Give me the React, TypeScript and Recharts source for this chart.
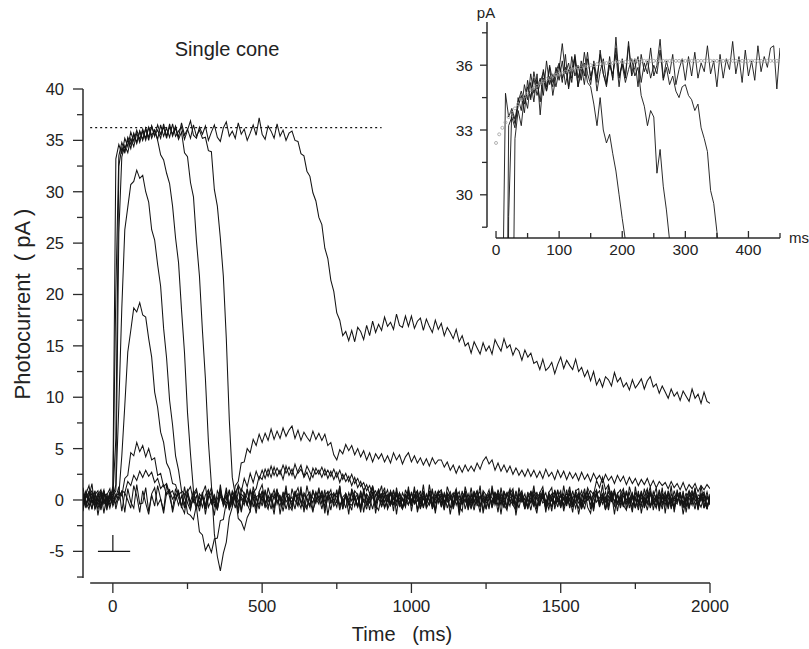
import { ComposedChart, Line, XAxis, YAxis, ReferenceLine } from 'recharts'

// sampling grid of the main traces (ms)
const TIME = [
  -100, -90, -80, -70, -60, -50, -40, -30, -20, -10,
  0, 10, 20, 30, 40, 50, 60, 70, 80, 90,
  100, 110, 120, 130, 140, 150, 160, 170, 180, 190,
  200, 210, 220, 230, 240, 250, 260, 270, 280, 290,
  300, 310, 320, 330, 340, 350, 360, 370, 380, 390,
  400, 410, 420, 430, 440, 450, 460, 470, 480, 490,
  500, 510, 520, 530, 540, 550, 560, 570, 580, 590,
  600, 610, 620, 630, 640, 650, 660, 670, 680, 690,
  700, 710, 720, 730, 740, 750, 760, 770, 780, 790,
  800, 810, 820, 830, 840, 850, 860, 870, 880, 890,
  900, 910, 920, 930, 940, 950, 960, 970, 980, 990,
  1000, 1010, 1020, 1030, 1040, 1050, 1060, 1070, 1080, 1090,
  1100, 1110, 1120, 1130, 1140, 1150, 1160, 1170, 1180, 1190,
  1200, 1210, 1220, 1230, 1240, 1250, 1260, 1270, 1280, 1290,
  1300, 1310, 1320, 1330, 1340, 1350, 1360, 1370, 1380, 1390,
  1400, 1410, 1420, 1430, 1440, 1450, 1460, 1470, 1480, 1490,
  1500, 1510, 1520, 1530, 1540, 1550, 1560, 1570, 1580, 1590,
  1600, 1610, 1620, 1630, 1640, 1650, 1660, 1670, 1680, 1690,
  1700, 1710, 1720, 1730, 1740, 1750, 1760, 1770, 1780, 1790,
  1800, 1810, 1820, 1830, 1840, 1850, 1860, 1870, 1880, 1890,
  1900, 1910, 1920, 1930, 1940, 1950, 1960, 1970, 1980, 1990,
  2000,
]

// photocurrent traces (pA); two sub-threshold sweeps first, then dimmest to brightest flash
const TRACE_0A = [
  1.2, -0.4, 0.3, 1.6, -0.9, -0.2, 0.8, -1.3, 0.5, 1.1,
  -0.6, 0.2, 1.3, -1.1, 0.7, 0.0, -0.8, 1.4, 0.4, -1.2,
  0.9, -0.3, -1.4, 0.6, 1.2, -0.5, 0.1, -1.0, 1.5, 0.3,
  -0.9, 1.1, 0.2, -0.6, -1.3, 0.8, 1.3, -0.2, 0.4, -1.1,
  0.6, 1.4, -0.7, 0.0, -1.5, 0.9, 0.3, -0.4, 1.2, -0.8,
  -0.1, 0.7, 1.3, -1.2, 0.4, -0.6, 1.0, 0.2, -1.3, 0.8,
  1.5, -0.3, -0.9, 0.6, 0.1, 1.1, -1.4, 0.3, 0.9, -0.5,
  -1.0, 0.5, 1.2, -0.2, -0.8, 1.4, 0.0, -1.2, 0.7, 0.2,
  0.8, -1.3, 0.4, 1.0, -0.6, -0.1, 1.3, -0.9, 0.5, -1.4,
  1.1, 0.3, -0.7, 0.9, -1.2, 0.6, 0.1, 1.4, -0.5, -1.0,
  0.4, 1.2, -0.9, -0.2, 1.0, -1.4, 0.7, 0.0, -0.6, 1.3,
  -1.1, 0.5, 0.9, -0.4, 1.5, -0.8, -0.2, 1.1, -1.3, 0.6,
  0.2, -1.0, 1.3, 0.4, -0.7, 1.0, -1.5, 0.3, 0.8, -0.4,
  1.2, -0.6, 0.0, -1.2, 0.9, 0.5, -0.9, 1.4, -0.3, 0.7,
  -1.4, 0.8, 0.3, 1.1, -0.5, -1.0, 1.2, -0.1, 0.6, -0.8,
  0.9, -0.2, -1.3, 0.7, 1.3, -0.6, 0.4, -1.1, 1.0, 0.1,
  -0.7, 1.4, -0.4, 0.2, -1.2, 0.9, 1.1, -0.8, -0.2, 1.2,
  0.5, -1.1, 0.8, -0.3, 1.5, -0.9, 0.0, 0.7, -1.4, 0.6,
  1.0, -0.5, -1.0, 1.3, 0.2, -0.7, 0.9, -1.3, 0.4, 1.1,
  -0.8, 0.3, 1.2, -1.1, 0.6, 0.0, -0.6, 1.4, -1.2, 0.5,
  0.7, -1.4, 0.2, 0.9, -0.3, 1.2, -1.0, 0.4, 0.8, -0.9,
  0.3,
]

const TRACE_0B = [
  -1.1, 0.6, 1.4, -0.3, 0.9, -1.5, 0.2, 1.0, -0.7, 0.0,
  1.3, -0.9, 0.4, 0.8, -1.2, 1.1, -0.2, -0.8, 1.5, -0.4,
  -0.3, 1.2, -1.1, 0.5, -0.6, 1.4, 0.1, -1.3, 0.7, 1.0,
  -1.2, 0.2, 0.9, -0.8, 1.3, -0.3, -1.0, 0.6, 1.1, -0.5,
  0.8, -1.4, 0.3, 1.2, -0.2, -0.9, 1.5, -0.6, 0.0, 1.0,
  -0.7, 0.4, -1.3, 1.1, 0.6, -0.4, -1.1, 1.3, 0.2, -0.9,
  0.5, -0.8, 1.2, 0.1, -1.4, 0.9, 0.3, -0.5, 1.4, -1.0,
  1.1, 0.0, -0.6, 1.3, -1.2, 0.4, 0.8, -1.0, -0.1, 1.2,
  -0.4, 1.0, -1.5, 0.3, 0.7, -0.3, 1.4, -0.9, 0.6, -0.2,
  -1.0, 0.9, 0.5, -1.2, 1.1, -0.5, -0.1, 1.3, -1.3, 0.4,
  1.4, -0.7, 0.1, 0.8, -1.1, 1.2, -0.4, -0.9, 1.0, 0.2,
  -0.5, 1.3, -1.2, 0.0, 0.9, -0.8, 1.5, -0.3, -1.0, 0.7,
  1.0, -0.2, 0.6, -1.4, 0.3, 1.1, -0.6, -1.1, 1.3, 0.1,
  -0.9, 0.7, -0.3, 1.4, -1.3, 0.2, 1.0, -0.7, 0.5, -1.2,
  1.2, -0.4, -1.0, 0.6, 1.1, -1.5, 0.4, 0.9, -0.6, 0.0,
  -0.2, 1.4, -0.8, -0.1, 1.0, -1.2, 0.7, 1.2, -0.9, 0.3,
  0.9, -1.1, 0.2, 1.3, -0.5, 0.6, -1.4, 0.1, 1.1, -0.7,
  -1.3, 0.5, 1.0, -0.6, 0.3, -1.0, 1.4, -0.2, 0.8, -1.1,
  0.6, 1.1, -0.9, 0.0, -1.2, 1.3, -0.4, 0.9, -0.8, 0.2,
  1.3, -1.0, 0.4, -0.5, 1.2, -1.3, 0.8, 0.1, -0.7, 1.0,
  -0.6, 0.9, -1.2, 0.5, 0.0, 1.1, -0.9, 1.4, -0.3, -0.8,
  0.6,
]

const TRACE_1 = [
  0.4, -0.6, 0.9, -0.3, 0.2, -0.9, 0.6, 0.1, -0.5, 0.8,
  -0.2, 0.4, 0.0, 0.9, 0.7, 1.8, 1.4, 2.4, 1.9, 2.8,
  2.2, 2.9, 2.3, 2.7, 1.7, 2.1, 1.1, 1.5, 0.5, 0.9,
  0.1, 0.6, -0.5, 0.4, -0.8, 0.7, -0.2, 0.9, -0.6, 0.3,
  -0.7, 0.5, 1.0, -0.4, 0.2, -1.0, 0.6, -0.1, 0.8, -0.6,
  0.3, -0.8, 0.9, 0.1, -0.5, 1.1, -0.3, 0.4, -0.9, 0.7,
  -0.1, 0.8, -0.7, 0.2, 1.0, -0.4, 0.5, -1.1, 0.3, 0.6,
  -0.6, 0.9, 0.0, -0.8, 0.7, 0.2, -0.5, 1.0, -0.2, 0.4,
  -0.9, 0.5, 0.8, -0.3, 0.1, -0.7, 0.9, -0.4, 0.6, 0.0,
  0.7, -0.6, 0.3, -1.0, 0.8, 0.2, -0.3, 0.6, -0.8, 1.1,
  -0.2, 0.4, -0.7, 0.9, 0.1, -0.5, 0.7, -0.9, 0.3, 0.5,
  -0.4, 1.0, -0.1, 0.3, -0.8, 0.6, 0.0, -0.6, 0.9, -0.3,
  0.5, -0.9, 0.7, 0.2, -0.4, 0.8, -1.2, 0.4, -0.2, 0.6,
  -0.7, 0.3, 0.9, -0.5, 0.1, -0.8, 0.6, 0.2, -0.3, 1.0,
  0.0, -0.6, 0.8, -0.2, 0.5, -0.9, 0.4, 0.7, -0.5, 0.2,
  -1.0, 0.6, 0.1, -0.4, 0.9, -0.2, 0.3, -0.7, 0.8, -0.1,
  0.4, -0.5, 1.0, -0.8, 0.2, 0.6, -0.3, 0.0, -0.9, 0.7,
  0.1, -0.7, 0.5, 0.9, -0.4, 0.3, -1.0, 0.6, -0.1, 0.4,
  -0.5, 0.8, -0.2, 0.2, -0.9, 0.7, 0.0, -0.6, 1.1, -0.3,
  0.6, -0.1, -0.8, 0.5, 0.3, -0.5, 0.9, -0.7, 0.2, -0.2,
  0.8, -0.6, 0.1, -0.9, 0.6, 0.0, -0.4, 0.7, -0.8, 0.3,
  -0.5,
]

const TRACE_2 = [
  -0.3, 0.7, 0.1, -0.8, 0.5, 0.9, -0.4, 0.2, -1.0, 0.6,
  0.3, -0.4, 0.8, 0.4, 2.1, 2.4, 4.6, 4.3, 5.6, 4.7,
  5.3, 4.2, 5.0, 3.9, 4.1, 2.4, 2.6, 1.3, 1.6, 0.6,
  0.9, 0.0, 0.7, -0.6, 0.3, 1.0, -0.5, 0.1, -0.9, 0.6,
  0.2, -0.7, 0.8, -0.1, 0.5, -0.6, 1.1, -0.3, 0.4, -0.8,
  0.7, 0.0, -0.9, 0.6, 0.2, -0.4, 0.9, -0.7, 0.3, 0.5,
  -0.6, 1.0, -0.2, 0.4, -0.8, 0.6, 0.1, -0.5, 0.9, -0.1,
  0.3, -0.9, 0.7, -0.3, 0.5, 0.0, -0.7, 0.8, 0.2, -0.4,
  0.9, -0.2, 0.4, -1.0, 0.6, 0.3, -0.5, 0.1, -0.8, 0.7,
  -0.1, 0.5, -0.6, 0.8, 0.0, -0.9, 0.6, 0.2, -0.3, 0.9,
  -0.7, 0.3, 1.0, -0.5, 0.2, -0.2, 0.7, -0.8, 0.4, 0.1,
  0.6, -0.4, 0.0, 0.9, -0.7, 0.5, -0.1, 0.3, -1.0, 0.8,
  -0.3, 0.6, -0.8, 0.2, 0.7, -0.5, 0.4, -0.2, 0.9, -0.6,
  0.1, -1.0, 0.5, 0.8, -0.3, 0.3, -0.7, 1.0, -0.1, 0.4,
  -0.5, 0.7, 0.2, -0.6, 0.9, -0.4, 0.0, 0.6, -0.9, 0.3,
  0.8, -0.2, -0.7, 0.4, 0.1, 0.7, -0.5, 0.2, -0.3, 1.0,
  -0.8, 0.3, 0.6, -0.1, -0.6, 0.9, 0.2, -0.9, 0.5, 0.0,
  0.4, -0.5, 0.9, -0.7, 0.3, -0.2, 0.8, 0.1, -0.6, 0.6,
  -0.2, 0.9, -0.4, 0.0, 0.7, -0.8, 0.5, -0.3, 0.2, -1.0,
  0.5, 0.1, -0.6, 1.0, -0.3, 0.4, -0.9, 0.6, 0.0, -0.4,
  0.7, -0.8, 0.3, 0.2, -0.5, 0.9, -0.1, -0.7, 0.4, 0.1,
  0.2,
]

const TRACE_3 = [
  0.6, -0.2, -0.9, 0.4, 0.8, -0.5, 0.1, 0.7, -0.6, 0.3,
  -0.4, 0.6, 0.5, 4.3, 9.2, 14.4, 16.5, 18.7, 18.3, 19.2,
  18.0, 17.8, 15.7, 13.9, 10.5, 9.0, 6.6, 5.6, 3.6, 3.0,
  1.6, 1.5, 0.5, 0.8, -0.4, 0.5, -0.8, 0.3, 0.9, -0.3,
  0.4, -0.9, 0.2, 0.7, -0.6, 0.1, 0.9, -0.4, 0.5, -1.0,
  0.0, 0.8, -0.5, 0.3, -0.2, 1.0, -0.7, 0.6, 0.2, -0.5,
  0.9, -0.3, 0.4, -0.9, 0.6, 0.0, -0.6, 0.8, -0.2, 0.3,
  -0.8, 0.5, 0.1, 0.7, -0.4, -0.9, 0.6, 0.2, -0.3, 0.9,
  0.2, -0.6, 0.9, -0.2, 0.4, 0.7, -1.0, 0.3, 0.6, -0.4,
  -0.5, 0.1, 0.6, -0.7, 0.9, -0.3, 0.2, -0.9, 0.5, 0.4,
  0.3, -0.8, 0.0, 0.8, -0.5, 0.6, -0.2, 0.1, -0.7, 1.0,
  -0.1, 0.4, -0.9, 0.5, 0.2, -0.4, 0.9, -0.6, 0.0, 0.7,
  0.8, -0.3, 0.3, -0.8, 0.6, 0.1, -0.5, 0.9, -0.9, 0.2,
  -0.4, 0.7, -0.1, 0.4, -1.0, 0.5, 0.3, -0.2, 0.8, -0.6,
  0.6, 0.0, -0.7, 0.9, -0.2, 0.3, -0.8, 0.5, 0.1, -0.5,
  -0.2, 0.9, 0.4, -0.6, 0.7, -0.9, 0.2, 0.6, -0.4, 0.0,
  0.5, -0.7, 0.1, 0.8, -0.3, -0.1, 0.7, -0.6, 0.3, 0.9,
  -0.9, 0.2, 0.6, -0.4, 0.0, 0.8, -0.5, 0.4, 1.0, -0.3,
  0.3, -0.5, 0.9, -0.8, 0.4, 0.1, -0.2, 0.7, -0.7, 0.5,
  -0.6, 0.8, 0.0, 0.3, -0.9, 0.6, 0.2, -0.4, 0.9, -0.1,
  0.4, -0.3, 0.7, -0.6, 0.1, -0.9, 0.5, 0.3, -0.2, 0.8,
  -0.4,
]

const TRACE_4 = [
  -0.7, 0.3, 0.8, -0.1, -0.6, 0.5, 1.0, -0.3, 0.2, -0.8,
  0.4, 0.9, 9.2, 18.7, 26.3, 28.5, 30.7, 31.0, 32.1, 31.3,
  31.6, 30.0, 29.0, 26.3, 25.3, 22.9, 20.8, 16.7, 13.8, 9.7,
  7.3, 4.3, 2.9, 0.9, 0.6, -1.3, -1.5, -1.9, -0.5, -0.6,
  0.4, -0.5, 0.9, -0.2, 0.3, -0.9, 0.6, 0.1, -0.7, 0.8,
  -0.3, 0.6, 0.0, -1.0, 0.7, 0.2, -0.4, 0.9, -0.6, 0.3,
  0.8, -0.6, 0.4, 0.1, -0.8, 0.6, -0.1, 0.5, -0.9, 0.2,
  -0.2, 0.7, -0.5, 0.9, 0.0, -0.7, 0.4, -0.3, 0.8, -0.1,
  0.5, -0.9, 0.2, 0.6, -0.4, 1.0, -0.6, 0.0, 0.3, -0.5,
  0.9, 0.1, -0.7, 0.4, -0.2, 0.5, -1.0, 0.8, -0.3, 0.2,
  -0.6, 0.7, 0.3, -0.5, 0.9, -0.1, 0.2, -0.8, 0.6, -0.4,
  0.1, -0.3, 0.8, -0.9, 0.4, 0.0, 0.7, -0.5, 0.2, 0.9,
  -0.7, 0.5, -0.2, 0.3, -0.6, 0.9, 0.1, -0.4, 0.6, -1.0,
  0.6, -0.1, 0.4, -0.7, 0.8, -0.3, 0.0, 0.9, -0.5, 0.3,
  -0.4, 0.9, -0.8, 0.2, 0.5, -0.6, 0.7, -0.2, 0.1, -0.9,
  0.7, -0.5, 0.3, 0.6, -0.3, 0.0, -0.9, 0.4, 0.8, -0.2,
  -0.1, 0.6, -0.6, 0.9, 0.2, -0.8, 0.4, -0.4, 0.7, 0.0,
  0.3, -0.9, 0.8, -0.2, 0.5, 0.1, -0.6, 0.9, -0.3, 0.6,
  -0.8, 0.4, 0.0, 0.7, -0.5, 0.3, -1.0, 0.5, 0.2, -0.4,
  0.9, -0.2, 0.5, -0.6, 0.1, 0.8, -0.4, 0.0, -0.8, 0.6,
  -0.3, 0.5, -0.7, 0.4, 0.9, -0.5, 0.2, -0.1, 0.6, -0.9,
  0.3,
]

const TRACE_5 = [
  0.2, -0.8, 0.5, 0.9, -0.4, 0.1, -0.7, 0.6, 0.3, -0.2,
  1.0, 33.2, 34.6, 33.7, 35.2, 34.4, 35.8, 34.9, 36.0, 35.1,
  36.1, 35.2, 36.3, 35.5, 36.0, 35.0, 33.6, 33.1, 31.8, 30.8,
  28.6, 25.5, 23.1, 18.5, 14.3, 8.5, 4.5, 0.9, -0.7, -3.1,
  -3.4, -4.9, -4.3, -5.1, -3.8, -3.7, -2.0, -1.9, -0.2, -0.4,
  0.9, 0.3, 1.5, 0.8, 2.1, 1.3, 2.6, 1.7, 2.8, 2.0,
  2.9, 2.1, 3.0, 2.2, 3.2, 2.3, 2.9, 2.0, 3.3, 2.4,
  3.0, 2.1, 2.8, 3.4, 2.2, 2.7, 1.9, 3.1, 2.5, 2.9,
  2.2, 3.0, 2.1, 2.8, 2.0, 2.7, 1.7, 2.5, 1.8, 2.3,
  1.4, 2.2, 1.2, 1.8, 0.9, 1.5, 0.6, 1.3, 0.4, 1.0,
  0.2, 0.8, -0.1, 0.6, -0.4, 0.5, -0.6, 0.7, 0.0, -0.5,
  0.8, -0.2, 0.4, -0.8, 0.6, 0.1, -0.5, 0.9, -0.3, 0.2,
  -0.6, 0.7, 0.0, 0.5, -0.9, 0.3, 0.8, -0.4, 0.1, -0.7,
  0.5, -0.3, 0.9, -0.6, 0.2, -0.1, 0.6, -0.8, 0.4, 0.7,
  -0.2, 0.3, -0.7, 1.0, -0.4, 0.6, -0.1, 0.2, -0.9, 0.5,
  0.1, -0.6, 0.8, -0.3, 0.4, -0.8, 0.7, 0.0, -0.5, 0.9,
  -0.4, 0.2, -0.2, 0.6, -0.7, 0.5, 0.1, 0.9, -0.3, 0.3,
  0.9, 0.5, 1.9, 1.2, 2.2, 1.0, 1.5, 0.2, 0.8, -0.3,
  0.4, -0.6, 0.7, -0.1, 0.3, -0.8, 0.6, 0.2, -0.4, 0.9,
  -0.7, 0.3, -0.2, 0.8, -0.5, 0.1, 0.6, -0.9, 0.4, -0.1,
  0.6, -0.4, 0.2, -0.7, 0.8, 0.0, -0.3, 0.5, -0.8, 0.4,
  -0.2,
]

const TRACE_6 = [
  -0.5, 0.4, -0.1, 0.7, -0.9, 0.3, 0.8, -0.4, 0.0, 0.6,
  0.5, 20.3, 33.5, 34.8, 33.9, 35.3, 34.6, 35.7, 34.8, 35.9,
  35.0, 36.2, 35.3, 36.4, 35.4, 36.5, 35.6, 36.3, 35.2, 36.6,
  35.4, 36.2, 35.1, 35.8, 33.8, 33.4, 30.9, 29.5, 25.2, 21.8,
  16.5, 11.8, 5.7, 1.5, -3.3, -5.5, -6.9, -5.2, -4.1, -1.7,
  -0.7, 1.4, 1.8, 3.6, 3.7, 5.0, 4.6, 5.9, 5.3, 6.4,
  5.6, 6.5, 5.8, 6.9, 5.9, 6.7, 6.0, 7.0, 6.2, 6.8,
  7.2, 6.0, 6.8, 5.8, 6.6, 6.1, 5.7, 6.7, 5.9, 6.5,
  5.8, 6.4, 5.3, 5.6, 4.4, 3.9, 4.9, 4.5, 5.4, 4.8,
  5.3, 4.4, 5.0, 4.2, 4.8, 3.9, 4.6, 3.7, 4.5, 4.0,
  4.5, 3.7, 4.3, 3.6, 4.6, 3.9, 4.4, 3.5, 4.2, 4.6,
  3.7, 4.3, 3.6, 4.1, 3.4, 4.0, 3.3, 4.1, 3.5, 3.9,
  3.9, 3.2, 3.7, 2.9, 3.4, 2.6, 3.3, 2.7, 3.4, 2.8,
  3.3, 2.8, 3.6, 3.0, 3.8, 4.2, 3.5, 3.9, 2.9, 3.6,
  2.8, 3.4, 2.7, 3.3, 2.5, 3.1, 2.4, 2.9, 2.3, 3.0,
  2.3, 2.9, 2.2, 2.8, 2.1, 3.0, 2.3, 2.7, 2.0, 2.9,
  2.2, 2.8, 2.0, 2.7, 2.1, 2.6, 1.9, 2.7, 2.0, 2.5,
  1.8, 2.6, 2.0, 2.4, 1.7, 2.5, 1.9, 2.3, 1.6, 2.4,
  1.8, 2.3, 1.5, 2.2, 1.6, 2.1, 1.4, 2.0, 1.5, 2.1,
  1.3, 1.9, 1.2, 1.8, 1.4, 1.7, 1.1, 1.8, 1.2, 1.6,
  1.0, 1.7, 0.9, 1.5, 1.1, 1.6, 0.8, 1.4, 1.0, 1.5,
  1.1,
]

const TRACE_7 = [
  0.7, -0.3, 0.2, -0.9, 0.5, 0.0, -0.6, 0.9, -0.2, 0.4,
  0.3, 6.0, 32.5, 34.3, 33.8, 35.1, 34.2, 35.6, 34.7, 35.9,
  35.1, 36.1, 35.0, 36.4, 35.5, 36.0, 35.2, 36.6, 35.4, 36.3,
  35.6, 36.4, 35.3, 36.7, 35.5, 36.1, 35.2, 36.5, 35.4, 36.0,
  35.2, 35.3, 34.0, 33.9, 30.2, 28.6, 25.5, 21.8, 15.7, 7.8,
  2.2, 0.5, -1.8, -2.1, -2.9, -1.7, -1.1, 0.7, 1.1, 2.3,
  2.0, 3.0, 2.3, 3.3, 2.4, 3.1, 2.5, 3.4, 2.6, 3.2,
  2.4, 3.5, 2.6, 3.0, 2.3, 3.3, 2.7, 2.2, 3.1, 2.5,
  3.2, 2.4, 2.9, 2.3, 3.0, 2.2, 2.9, 2.0, 2.6, 1.8,
  2.5, 1.6, 2.1, 1.3, 1.7, 0.9, 1.4, 0.5, 0.9, 0.1,
  0.6, -0.2, 0.5, -0.5, 0.4, 0.8, -0.6, 0.2, -0.3, 0.7,
  -0.4, 0.3, 0.9, -0.7, 0.1, -0.2, 0.6, -0.9, 0.5, 0.0,
  0.7, -0.5, 0.2, 0.8, -0.3, 0.4, -0.8, 0.1, 0.6, -0.4,
  -0.1, 0.9, -0.6, 0.3, 0.5, -0.9, 0.2, -0.3, 0.7, 0.0,
  0.4, -0.8, 0.6, 0.0, -0.5, 0.9, -0.2, 0.3, -0.6, 0.8,
  -0.3, 0.5, -0.9, 0.7, 0.2, -0.4, 0.6, -0.1, 0.4, -0.7,
  0.6, 0.0, 0.3, -0.6, 0.9, -0.3, -0.8, 0.5, 0.1, 0.4,
  -0.5, 0.8, -0.2, 0.2, 0.6, -0.9, 0.4, -0.1, 0.7, -0.4,
  0.2, -0.7, 0.9, -0.3, 0.5, 0.0, -0.6, 0.8, -0.2, 0.3,
  0.8, -0.4, 0.1, -0.8, 0.6, 0.3, -0.5, 0.2, -0.9, 0.7,
  -0.2, 0.4, -0.6, 0.9, -0.1, 0.5, -0.8, 0.3, 0.6, -0.5,
  0.1,
]

const TRACE_8 = [
  0.1, 0.9, -0.6, 0.3, -0.2, 0.7, -1.0, 0.4, 0.6, -0.5,
  0.2, 1.5, 26.0, 33.4, 34.5, 33.8, 35.2, 34.4, 35.7, 34.8,
  35.9, 35.0, 36.3, 35.2, 36.0, 35.1, 36.5, 35.4, 36.2, 35.3,
  36.6, 35.4, 35.9, 36.3, 35.1, 36.0, 36.9, 35.5, 35.2, 36.3,
  35.6, 36.4, 35.0, 35.8, 36.5, 35.3, 34.9, 36.2, 36.8, 35.4,
  35.9, 35.2, 36.7, 35.6, 36.1, 35.0, 35.7, 36.5, 35.5, 37.2,
  35.6, 35.1, 36.4, 35.9, 35.2, 36.6, 35.4, 36.0, 35.0, 35.7,
  35.9, 35.0, 34.9, 33.7, 33.5, 32.0, 31.5, 29.9, 29.1, 27.5,
  26.8, 24.5, 23.5, 21.4, 20.3, 18.2, 17.5, 16.0, 16.4, 15.5,
  16.5, 15.4, 16.8, 16.4, 15.6, 17.0, 16.0, 17.4, 16.3, 17.1,
  16.5, 17.8, 16.9, 17.3, 16.6, 18.1, 17.0, 16.8, 17.9, 16.9,
  17.9, 16.7, 17.4, 17.7, 16.5, 17.6, 16.9, 16.3, 17.5, 16.6,
  17.2, 16.0, 16.8, 16.3, 15.7, 16.6, 15.4, 16.0, 15.0, 15.3,
  14.3, 15.4, 14.8, 14.2, 15.3, 14.5, 15.0, 14.2, 15.6, 15.0,
  14.5, 15.7, 14.8, 15.1, 14.1, 14.8, 14.5, 13.6, 14.6, 13.9,
  14.3, 13.3, 13.5, 12.7, 13.7, 12.6, 12.9, 13.4, 12.3, 13.2,
  13.9, 12.8, 13.6, 13.1, 12.7, 13.7, 12.5, 12.9, 12.0, 12.6,
  11.6, 12.5, 11.2, 11.8, 11.0, 12.0, 11.7, 11.1, 12.4, 11.5,
  11.9, 11.0, 11.4, 10.7, 11.7, 10.9, 11.3, 11.8, 10.8, 11.6,
  12.0, 11.0, 11.3, 10.4, 11.1, 10.5, 9.9, 10.8, 10.1, 10.5,
  9.7, 10.6, 10.1, 9.6, 10.8, 9.9, 10.3, 9.4, 10.5, 9.6,
  9.4,
]

const MAIN_TRACES = [TRACE_0A, TRACE_0B, TRACE_1, TRACE_2, TRACE_3, TRACE_4, TRACE_5, TRACE_6, TRACE_7, TRACE_8]
const MAIN_X_TICKS = [0, 250, 500, 750, 1000, 1250, 1500, 1750, 2000]
const MAIN_Y_TICKS = [-7.5, -5, -2.5, 0, 2.5, 5, 7.5, 10, 12.5, 15, 17.5, 20, 22.5, 25, 27.5, 30, 32.5, 35, 37.5, 40]
const SATURATION = 36.25

// inset: first 450 ms of the saturating responses, 5 ms grid
const INSET_TIME = [
  0, 5, 10, 15, 20, 25, 30, 35, 40, 45,
  50, 55, 60, 65, 70, 75, 80, 85, 90, 95,
  100, 105, 110, 115, 120, 125, 130, 135, 140, 145,
  150, 155, 160, 165, 170, 175, 180, 185, 190, 195,
  200, 205, 210, 215, 220, 225, 230, 235, 240, 245,
  250, 255, 260, 265, 270, 275, 280, 285, 290, 295,
  300, 305, 310, 315, 320, 325, 330, 335, 340, 345,
  350, 355, 360, 365, 370, 375, 380, 385, 390, 395,
  400, 405, 410, 415, 420, 425, 430, 435, 440, 445,
  450,
]

const INSET_A = [
  0.6, 1.0, 24.0, 34.7, 33.6, 34.0, 33.5, 34.3, 34.8, 34.2,
  35.0, 34.5, 35.4, 34.6, 35.2, 35.7, 34.8, 35.5, 35.0, 35.9,
  35.3, 36.2, 35.1, 35.8, 35.4, 36.3, 35.0, 35.7, 36.1, 35.2,
  35.0, 34.2, 33.2, 34.5, 33.0, 32.4, 32.8, 31.9, 31.1, 30.0,
  28.9, 27.9, 26.0,
]

const INSET_B = [
  0.4, 0.7, 1.0, 14.0, 33.2, 33.6, 33.1, 34.5, 33.9, 35.1,
  34.4, 35.6, 34.7, 35.3, 34.3, 35.8, 35.0, 36.0, 35.2, 35.7,
  36.1, 35.4, 35.9, 35.0, 36.4, 35.5, 36.0, 35.3, 36.6, 35.6,
  35.1, 36.2, 35.4, 36.5, 35.6, 35.0, 36.1, 35.4, 36.8, 35.5,
  36.0, 35.2, 35.8, 36.3, 35.5, 35.9, 34.6, 34.1, 33.2, 33.9,
  33.6, 31.0, 32.1, 30.4, 29.3, 27.9, 26.3,
]

const INSET_C = [
  0.3, 0.5, 0.8, 1.5, 29.0, 33.9, 33.3, 34.1, 34.6, 33.8,
  35.3, 34.4, 35.7, 34.9, 35.4, 34.6, 36.2, 35.1, 35.6, 35.0,
  35.8, 37.0, 35.6, 36.1, 35.2, 36.5, 35.4, 36.0, 35.1, 36.3,
  35.5, 36.0, 35.2, 36.7, 35.6, 35.1, 36.4, 35.3, 37.3, 35.4,
  36.1, 35.5, 37.1, 35.6, 36.3, 35.0, 36.5, 35.7, 36.2, 35.4,
  36.0, 35.6, 36.7, 35.3, 35.9, 35.1, 35.5, 34.8, 34.5, 35.0,
  35.1, 34.6, 34.4, 33.9, 34.2, 33.1, 32.6, 32.0, 30.2, 29.6,
  28.3, 26.8,
]

const INSET_D = [
  0.2, 0.5, 0.7, 1.0, 1.3, 18.0, 32.6, 33.9, 33.2, 34.6,
  34.0, 35.2, 34.3, 35.6, 33.7, 35.4, 34.8, 35.9, 34.6, 35.5,
  36.0, 35.2, 36.5, 34.9, 35.8, 36.4, 35.0, 36.2, 35.5, 36.6,
  35.3, 36.1, 34.8, 35.7, 36.3, 35.2, 36.0, 35.6, 36.5, 35.0,
  36.3, 35.4, 36.9, 35.5, 35.9, 36.4, 35.2, 36.1, 35.6, 36.8,
  35.5, 36.0, 37.2, 35.4, 36.2, 35.6, 36.5, 35.1, 35.8, 36.3,
  35.3, 36.4, 35.5, 36.6, 35.4, 36.1, 35.7, 36.9, 35.6, 36.2,
  35.0, 36.5, 35.4, 36.3, 35.8, 37.1, 35.6, 36.4, 35.2, 36.7,
  35.5, 36.2, 35.3, 36.9, 35.7, 36.4, 35.9, 36.8, 36.9, 34.9,
  36.8,
]

// fitted rise, drawn as open circles
const INSET_FIT = [
  32.4, 32.8, 33.1, 33.35, 33.6, 33.8, 34.0, 34.2, 34.4, 34.55,
  34.7, 34.85, 34.95, 35.05, 35.15, 35.25, 35.35, 35.4, 35.5, 35.55,
  35.6, 35.65, 35.7, 35.75, 35.8, 35.85, 35.9, 35.9, 35.95, 35.95,
  36.0, 36.0, 36.05, 36.05, 36.1, 36.1, 36.1, 36.1, 36.15, 36.15,
  36.15, 36.15, 36.15, 36.2, 36.2, 36.2, 36.2, 36.2, 36.2, 36.2,
  36.2, 36.2, 36.2, 36.2, 36.2, 36.2, 36.2, 36.2, 36.2, 36.2,
  36.2, 36.2, 36.2, 36.2, 36.2, 36.2, 36.2, 36.2, 36.2, 36.2,
  36.2, 36.2, 36.2, 36.2, 36.2, 36.2, 36.2, 36.2, 36.2, 36.2,
  36.2, 36.2, 36.2, 36.2, 36.2, 36.2, 36.2, 36.2, 36.2, 36.2,
  36.2,
]

const INSET_TRACES = [INSET_A, INSET_B, INSET_C, INSET_D]
const INSET_X_TICKS = [0, 50, 100, 150, 200, 250, 300, 350, 400, 450]
const INSET_Y_TICKS = [28.5, 30, 31.5, 33, 34.5, 36, 37.5]

const INK = '#141414'
const AXIS = '#2b2b2b'
const TEXT = '#222'
const FONT = '"Liberation Sans", Arial, Helvetica, sans-serif'
const Y_MIN = -8.08

const mainData = TIME.map((t, i) => {
  const row: Record<string, number> = { t }
  MAIN_TRACES.forEach((tr, k) => { row['s' + k] = tr[i] })
  return row
})

const insetData = INSET_TIME.map((t, i) => {
  const row: Record<string, number | null> = { t, fit: INSET_FIT[i] }
  INSET_TRACES.forEach((tr, k) => { row['s' + k] = tr[i] ?? null })
  return row
})

function MainXTick({ x, y, payload }: any) {
  const v = payload.value
  const major = v % 500 === 0
  return (
    <g>
      <line x1={x} x2={x} y1={y} y2={y + (major ? 10 : 6)} stroke={AXIS} strokeWidth={1.3} />
      {major && (
        <text x={x} y={y + 29} textAnchor="middle" fontSize={17} fill={TEXT} fontFamily={FONT}>{v}</text>
      )}
    </g>
  )
}

function MainYTick({ x, y, payload }: any) {
  const v = payload.value
  const major = v % 5 === 0
  return (
    <g>
      <line x1={x - (major ? 10 : 6)} x2={x} y1={y} y2={y} stroke={AXIS} strokeWidth={1.3} />
      {major && (
        <text x={x - 19} y={y + 6} textAnchor="end" fontSize={16.5} fill={TEXT} fontFamily={FONT}>{v}</text>
      )}
    </g>
  )
}

function InsetXTick({ x, y, payload }: any) {
  const v = payload.value
  const major = v % 100 === 0
  return (
    <g>
      <line x1={x} x2={x} y1={y} y2={y - (major ? 7 : 5)} stroke={AXIS} strokeWidth={1.3} />
      {major && (
        <text x={x} y={y + 17} textAnchor="middle" fontSize={15.5} fill={TEXT} fontFamily={FONT}>{v}</text>
      )}
    </g>
  )
}

function InsetYTick({ x, y, payload }: any) {
  const v = payload.value
  const major = v % 3 === 0
  return (
    <g>
      <line x1={x - (major ? 7 : 5)} x2={x} y1={y} y2={y} stroke={AXIS} strokeWidth={1.3} />
      {major && (
        <text x={x - 14} y={y + 5.5} textAnchor="end" fontSize={15.5} fill={TEXT} fontFamily={FONT}>{v}</text>
      )}
    </g>
  )
}

export default function App() {
  return (
    <div style={{ position: 'absolute', left: 0, top: 0, width: 809, height: 649, background: '#fff' }}>
      <ComposedChart width={809} height={649} data={mainData} margin={{ top: 89, right: 99, bottom: 26, left: 23 }}>
        <XAxis
          dataKey="t"
          type="number"
          domain={[-100, 2000]}
          ticks={MAIN_X_TICKS}
          interval={0}
          allowDataOverflow
          axisLine={false}
          tickLine={false}
          tickSize={0}
          tickMargin={0}
          height={40}
          tick={(p: any) => <MainXTick {...p} />}
        />
        <YAxis
          type="number"
          domain={[Y_MIN, 40]}
          ticks={MAIN_Y_TICKS}
          interval={0}
          allowDataOverflow
          axisLine={false}
          tickLine={false}
          tickSize={0}
          tickMargin={0}
          width={60}
          tick={(p: any) => <MainYTick {...p} />}
        />
        <ReferenceLine segment={[{ x: -100, y: -7.6 }, { x: -100, y: 40 }]} stroke={AXIS} strokeWidth={1.5} ifOverflow="visible" />
        <ReferenceLine segment={[{ x: -76, y: Y_MIN }, { x: 2000, y: Y_MIN }]} stroke={AXIS} strokeWidth={1.5} ifOverflow="visible" />
        <ReferenceLine segment={[{ x: -76, y: SATURATION }, { x: 900, y: SATURATION }]} stroke={INK} strokeWidth={1.2} strokeDasharray="2 3" />
        <ReferenceLine segment={[{ x: -50, y: -5 }, { x: 58, y: -5 }]} stroke={INK} strokeWidth={1.2} />
        <ReferenceLine segment={[{ x: 0, y: -5 }, { x: 0, y: -3.4 }]} stroke={INK} strokeWidth={1.2} />
        {MAIN_TRACES.map((_, k) => (
          <Line
            key={k}
            dataKey={'s' + k}
            type="linear"
            stroke={INK}
            strokeWidth={1.05}
            dot={false}
            activeDot={false}
            isAnimationActive={false}
          />
        ))}
      </ComposedChart>

      <div style={{ position: 'absolute', left: 440, top: 0 }}>
        <ComposedChart width={369} height={280} data={insetData} margin={{ top: 22, right: 29, bottom: 12, left: 7 }}>
          <XAxis
            dataKey="t"
            type="number"
            domain={[-14.3, 450]}
            ticks={INSET_X_TICKS}
            interval={0}
            allowDataOverflow
            axisLine={false}
            tickLine={false}
            tickSize={0}
            tickMargin={0}
            height={30}
            tick={(p: any) => <InsetXTick {...p} />}
          />
          <YAxis
            type="number"
            domain={[28, 38]}
            ticks={INSET_Y_TICKS}
            interval={0}
            allowDataOverflow
            axisLine={false}
            tickLine={false}
            tickSize={0}
            tickMargin={0}
            width={40}
            tick={(p: any) => <InsetYTick {...p} />}
          />
          <ReferenceLine segment={[{ x: -14.3, y: 28.5 }, { x: -14.3, y: 38 }]} stroke={AXIS} strokeWidth={1.5} ifOverflow="visible" />
          <ReferenceLine segment={[{ x: 0, y: 28 }, { x: 450, y: 28 }]} stroke={AXIS} strokeWidth={1.5} ifOverflow="visible" />
          <Line
            dataKey="fit"
            type="linear"
            stroke="transparent"
            dot={{ r: 1.5, stroke: '#a0a0a0', strokeWidth: 0.8, fill: 'none' }}
            activeDot={false}
            isAnimationActive={false}
          />
          {INSET_TRACES.map((_, k) => (
            <Line
              key={k}
              dataKey={'s' + k}
              type="linear"
              stroke={INK}
              strokeWidth={0.9}
              dot={false}
              activeDot={false}
              isAnimationActive={false}
            />
          ))}
        </ComposedChart>
      </div>

      <svg width={809} height={649} style={{ position: 'absolute', left: 0, top: 0, pointerEvents: 'none' }}>
        <g fontFamily={FONT} fill={TEXT}>
          <text x={227} y={56} textAnchor="middle" fontSize={20}>Single cone</text>
          <text
            x={30}
            y={304}
            transform="rotate(-90 30 304)"
            textAnchor="middle"
            fontSize={22}
            style={{ whiteSpace: 'pre' }}
          >
            Photocurrent  ( pA )
          </text>
          <text x={402} y={641} textAnchor="middle" fontSize={20} style={{ whiteSpace: 'pre' }}>Time   (ms)</text>
          <text x={486} y={18} textAnchor="middle" fontSize={15}>pA</text>
          <text x={789} y={243} fontSize={15}>ms</text>
        </g>
      </svg>
    </div>
  )
}
